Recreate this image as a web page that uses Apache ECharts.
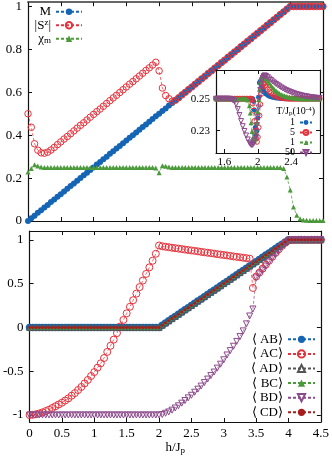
<!DOCTYPE html>
<html>
<head>
<meta charset="utf-8">
<script src="https://cdn.jsdelivr.net/npm/echarts@6/dist/echarts.min.js"></script>
<style>
  html, body { margin: 0; padding: 0; background: #fff; }
  #chart { width: 332px; height: 458px; }
</style>
</head>
<body>
<div id="chart"></div>
<script>
// field h/J_p, common grid for both main panels
const hVals = [0,0.05,0.1,0.15,0.2,0.25,0.3,0.35,0.4,0.45,0.5,0.55,0.6,0.65,0.7,0.75,0.8,0.85,0.9,0.95,
  1,1.05,1.1,1.15,1.2,1.25,1.3,1.35,1.4,1.45,1.5,1.55,1.6,1.65,1.7,1.75,1.8,1.85,1.9,1.95,
  2,2.05,2.1,2.15,2.2,2.25,2.3,2.35,2.4,2.45,2.5,2.55,2.6,2.65,2.7,2.75,2.8,2.85,2.9,2.95,
  3,3.05,3.1,3.15,3.2,3.25,3.3,3.35,3.4,3.45,3.5,3.55,3.6,3.65,3.7,3.75,3.8,3.85,3.9,3.95,
  4,4.05,4.1,4.15,4.2,4.25,4.3,4.35,4.4,4.45,4.5];

// top panel
const mVals = [0,.013,.025,.038,.05,.063,.075,.088,.1,.113,
  .125,.138,.15,.163,.175,.188,.2,.213,.225,.238,
  .25,.263,.275,.288,.3,.313,.325,.338,.35,.363,
  .375,.388,.4,.413,.425,.438,.45,.463,.475,.488,
  .5,.513,.525,.538,.55,.563,.575,.588,.6,.613,
  .625,.638,.65,.663,.675,.688,.7,.713,.725,.738,
  .75,.763,.775,.788,.8,.813,.825,.838,.85,.863,
  .875,.888,.9,.913,.925,.938,.95,.963,.975,.988,
  1,1,1,1,1,1,1,1,1,1,1];
const szVals = [.5,.437,.36,.33,.318,.316,.321,.331,.343,.356,
  .369,.382,.394,.407,.42,.433,.446,.458,.471,.484,
  .497,.51,.522,.535,.548,.561,.574,.586,.599,.612,
  .625,.638,.65,.663,.676,.689,.702,.714,.727,.74,
  .7,.62,.585,.57,.558,.563,.575,.588,.6,.613,
  .625,.638,.65,.663,.675,.688,.7,.713,.725,.738,
  .75,.763,.775,.788,.8,.813,.825,.838,.85,.863,
  .875,.888,.9,.913,.925,.938,.95,.963,.975,.988,
  1,1,1,1,1,1,1,1,1,1,1];
const chiVals = [.228,.245,.262,.256,.252,.25,.25,.25,.25,.25,
  .25,.25,.25,.25,.25,.25,.25,.25,.25,.25,
  .25,.25,.25,.25,.25,.25,.25,.25,.25,.25,
  .25,.25,.25,.25,.25,.25,.25,.25,.25,.247,
  .225,.258,.255,.252,.25,.25,.25,.25,.25,.25,
  .25,.25,.25,.25,.25,.25,.25,.25,.25,.25,
  .25,.25,.25,.25,.25,.25,.25,.25,.25,.25,
  .25,.25,.25,.25,.25,.25,.25,.25,.245,.205,
  .145,.065,.027,.01,.005,.003,.002,.002,.002,.002,.002];

// bottom panel: correlations
const abVals = [0,0,0,0,0,0,0,0,0,0,
  0,0,0,0,0,0,0,0,0,0,
  0,0,0,0,0,0,0,0,0,0,
  0,0,0,0,0,0,0,0,0,0,
  0,.025,.05,.075,.1,.125,.15,.175,.2,.225,
  .25,.275,.3,.325,.35,.375,.4,.425,.45,.475,
  .5,.525,.55,.575,.6,.625,.65,.675,.7,.725,
  .75,.775,.8,.825,.85,.875,.9,.925,.95,.975,
  1,1,1,1,1,1,1,1,1,1,1];
const adVals = abVals.slice();   // AD, BC, CD lie on top of AB
const bcVals = abVals.slice();
const cdVals = abVals.slice();
const acVals = [-1,-.998,-.992,-.982,-.97,-.955,-.94,-.92,-.9,-.88,
  -.86,-.835,-.81,-.78,-.75,-.715,-.68,-.64,-.6,-.555,
  -.51,-.46,-.41,-.35,-.28,-.21,-.14,-.065,.01,.085,
  .16,.235,.31,.385,.46,.535,.61,.685,.76,.84,
  .935,.925,.92,.915,.909,.904,.899,.894,.888,.883,
  .878,.873,.868,.862,.857,.852,.847,.842,.836,.831,
  .826,.821,.816,.81,.805,.8,.795,.79,.784,.45,
  .58,.625,.67,.715,.76,.805,.85,.89,.93,.965,
  .99,.998,1,1,1,1,1,1,1,1,1];
const bdVals = [-1,-1,-1,-1,-1,-1,-1,-1,-1,-1,
  -1,-1,-1,-1,-1,-1,-1,-1,-1,-1,
  -1,-1,-1,-1,-1,-1,-1,-1,-1,-1,
  -1,-1,-1,-1,-1,-1,-1,-1,-1,-1,
  -1,-.995,-.98,-.965,-.945,-.92,-.895,-.865,-.835,-.805,
  -.775,-.74,-.705,-.67,-.63,-.59,-.55,-.51,-.465,-.42,
  -.37,-.315,-.265,-.215,-.16,-.105,-.04,.04,.13,.21,
  .565,.61,.655,.7,.745,.79,.835,.875,.92,.955,
  .985,.997,1,1,1,1,1,1,1,1,1];

// inset: chi_m near h = 2 for several temperatures
const insetH = [1.5,1.52,1.54,1.56,1.58,1.6,1.62,1.64,1.66,1.68,1.7,1.72,1.74,1.76,1.78,1.8,1.82,1.84,1.86,1.88,1.9,
  1.91,1.92,1.93,1.94,1.95,1.96,1.97,1.98,1.99,2,2.01,2.02,2.03,2.04,2.05,2.06,2.07,2.08,2.09,2.1,
  2.12,2.14,2.16,2.18,2.2,2.22,2.24,2.26,2.28,2.3,2.32,2.34,2.36,2.38,2.4,2.42,2.44,2.46,2.48,2.5,
  2.52,2.54,2.56,2.58,2.6,2.62,2.64,2.66,2.68,2.7,2.72,2.74];
const t1Vals = [.25,.25,.25,.25,.25,.25,.25,.25,.25,.25,.25,.25,.25,.25,.25,.25,.25,.25,.25,.25,.25,
  .25,.25,.25,.25,.2485,.243,.232,.227,.23,.238,.251,.26,.261,.259,.257,.2555,.2545,.254,.2535,.253,
  .2522,.2516,.2512,.2509,.2507,.2505,.2504,.2503,.2502,.2501,.25,.25,.25,.25,.25,.25,.25,.25,.25,.25,
  .25,.25,.25,.25,.25,.25,.25,.25,.25,.25,.25,.25];
const t5Vals = [.25,.25,.25,.25,.25,.25,.25,.25,.25,.25,.25,.25,.25,.25,.25,.25,.25,.25,.25,.25,.25,
  .25,.25,.2495,.247,.2425,.236,.23,.225,.223,.226,.232,.2395,.2465,.253,.2575,.2595,.2598,.2595,.2585,.2575,
  .2558,.2545,.2535,.2527,.252,.2515,.2511,.2508,.2506,.2504,.2503,.2502,.2501,.25,.25,.25,.25,.25,.25,.25,
  .25,.25,.25,.25,.25,.25,.25,.25,.25,.25,.25,.25];
const t10Vals = [.25,.25,.25,.25,.25,.25,.25,.25,.25,.25,.25,.25,.25,.25,.25,.25,.25,.25,.25,.2492,.2456,
  .241,.235,.2295,.2255,.2235,.2235,.225,.229,.235,.242,.2495,.256,.2605,.263,.2645,.265,.2648,.2642,.2635,.2627,
  .2612,.2597,.2583,.257,.2558,.2548,.254,.2533,.2527,.2522,.2518,.2514,.2511,.2509,.2507,.2505,.2504,.2503,.2502,.2501,
  .25,.25,.25,.25,.25,.25,.25,.25,.25,.25,.25,.25];
const t50Vals = [.25,.25,.25,.25,.25,.25,.25,.25,.25,.2497,.2492,.2485,.2465,.2435,.2398,.236,.2328,.2298,.227,.2245,.2225,
  .2218,.2212,.221,.2212,.222,.2238,.2262,.2292,.2335,.2385,.2445,.2505,.2555,.259,.2615,.263,.264,.2645,.2645,.2642,
  .2635,.2626,.2617,.2608,.26,.2592,.2585,.2578,.2571,.2565,.2559,.2554,.2549,.2545,.2541,.2537,.2533,.253,.2527,.2524,
  .2521,.2519,.2517,.2515,.2513,.2511,.251,.2508,.2507,.2506,.2505,.2504];

const yTopTicks = [0, 0.2, 0.4, 0.6, 0.8, 1];
const yBotTicks = [-1, -0.5, 0, 0.5, 1];
const xInsetTicks = [1.6, 2, 2.4];
const yInsetTicks = [0.23, 0.25];

const legendText = {
  M: 'M', Sz: '|S{sup|z}|', chi: 'χ{sub|m}',
  AB: '⟨ AB⟩', AC: '⟨ AC⟩', AD: '⟨ AD⟩', BC: '⟨ BC⟩', BD: '⟨ BD⟩', CD: '⟨ CD⟩',
  T1: '1', T5: '5', T10: '1', T50: '50'
};

const FONT = 'Liberation Serif';
const BLUE = '#1565b5', RED = '#e6323c', GREEN = '#4b9a3a', PURPLE = '#8c4a8c', GRAY = '#555555', DARKRED = '#a81c1c';

const rich = {
  sup: { fontFamily: FONT, fontSize: 9, verticalAlign: 'top', padding: [0, 0, 6, 0] },
  sub: { fontFamily: FONT, fontSize: 9, verticalAlign: 'bottom', padding: [6, 0, 0, 0] }
};

function pairs(xs, ys) {
  return xs.map((x, i) => [x, ys[i]]);
}

// one axis edge of a panel frame
function frameAxis(dim, grid, position, range, ticks, labels, extra) {
  const ax = Object.assign({
    type: 'value',
    gridIndex: grid,
    position: position,
    min: range[0],
    max: range[1],
    axisLine: { onZero: false, lineStyle: { color: '#111', width: 1.2 } },
    axisTick: { inside: true, length: 4, customValues: ticks, lineStyle: { color: '#111' } },
    axisLabel: { show: !!labels, customValues: ticks, fontFamily: FONT, fontSize: 13, color: '#000' },
    splitLine: { show: false }
  }, extra || {});
  if (labels) Object.assign(ax.axisLabel, labels);
  return ax;
}

function line(name, xi, xs, ys, color, symbol, size, hollow, z, extra) {
  return Object.assign({
    name: name,
    type: 'line',
    xAxisIndex: xi,
    yAxisIndex: xi,
    data: pairs(xs, ys),
    symbol: symbol,
    symbolSize: size,
    z: z || 2,
    lineStyle: { color: color, width: 0.7, type: [3, 2] },
    itemStyle: hollow
      ? { color: 'rgba(0,0,0,0)', borderColor: color, borderWidth: 1 }
      : { color: color, borderColor: color, borderWidth: 0 },
    emphasis: { disabled: true }
  }, extra || {});
}

const xMain = [0, 0.5, 1, 1.5, 2, 2.5, 3, 3.5, 4, 4.5];

const chart = echarts.init(document.getElementById('chart'));
chart.setOption({
  animation: false,
  backgroundColor: '#fff',
  grid: [
    { left: 28, top: 2, width: 295, height: 219 },
    { left: 28, top: 231, width: 295, height: 191 },
    { left: 216, top: 70, width: 104, height: 83, show: true, backgroundColor: '#fff', borderWidth: 0, z: 10 }
  ],
  xAxis: [
    frameAxis('x', 0, 'bottom', [0, 4.5], xMain, null),
    frameAxis('x', 0, 'top', [0, 4.5], xMain, null, { axisLine: { onZero: false, lineStyle: { color: '#666', width: 2 } } }),
    frameAxis('x', 1, 'bottom', [0, 4.5], xMain, { margin: 5 }, {
      name: 'h/J{sub|p}', nameLocation: 'middle', nameGap: 18,
      nameTextStyle: { fontFamily: FONT, fontSize: 13, color: '#000', rich: rich }
    }),
    frameAxis('x', 1, 'top', [0, 4.5], xMain, null),
    frameAxis('x', 2, 'bottom', [1.5, 2.745], xInsetTicks, { fontSize: 11, margin: 4 }, { z: 11 }),
    frameAxis('x', 2, 'top', [1.5, 2.745], xInsetTicks, null, { z: 11 })
  ],
  yAxis: [
    frameAxis('y', 0, 'left', [0, 1.02], yTopTicks, { margin: 6 }),
    frameAxis('y', 0, 'right', [0, 1.02], yTopTicks, null),
    frameAxis('y', 1, 'left', [-1.08, 1.1], yBotTicks, { margin: 6 }),
    frameAxis('y', 1, 'right', [-1.08, 1.1], yBotTicks, null),
    frameAxis('y', 2, 'left', [0.216, 0.268], yInsetTicks, { fontSize: 11, margin: 6 }, { z: 11 }),
    frameAxis('y', 2, 'right', [0.216, 0.268], yInsetTicks, null, { z: 11 })
  ],
  title: {
    text: 'T/J{sub|p}(10{sup|-4})',
    right: 17, top: 106, padding: 0, z: 13,
    textStyle: {
      fontFamily: FONT, fontSize: 10, fontWeight: 'normal', color: '#000',
      rich: {
        sup: { fontFamily: FONT, fontSize: 7, verticalAlign: 'top', padding: [0, 0, 4, 0] },
        sub: { fontFamily: FONT, fontSize: 7, verticalAlign: 'bottom', padding: [4, 0, 0, 0] }
      }
    }
  },
  legend: [
    {
      data: ['M', 'Sz', 'chi'], orient: 'vertical', align: 'right',
      right: 249, top: 5, padding: 0, itemWidth: 26, itemHeight: 8, itemGap: 0,
      selectedMode: false, formatter: n => legendText[n],
      textStyle: { fontFamily: FONT, fontSize: 13, lineHeight: 13.5, color: '#000', rich: rich }
    },
    {
      data: ['AB', 'AC', 'AD', 'BC', 'BD', 'CD'], orient: 'vertical', align: 'right',
      right: 16, top: 332, padding: 0, itemWidth: 27, itemHeight: 9, itemGap: 0,
      selectedMode: false, formatter: n => legendText[n],
      textStyle: { fontFamily: FONT, fontSize: 13, lineHeight: 14.6, color: '#000' }
    },
    {
      data: ['T1', 'T5', 'T10', 'T50'], orient: 'vertical', align: 'right',
      right: 19, top: 117.5, padding: 0, itemWidth: 12, itemHeight: 6, itemGap: 0, z: 13,
      selectedMode: false, formatter: n => legendText[n],
      textStyle: { fontFamily: FONT, fontSize: 10, lineHeight: 8.7, color: '#000' }
    }
  ],
  series: [
    line('M', 0, hVals, mVals, BLUE, 'circle', 6, false),
    line('Sz', 0, hVals, szVals, RED, 'circle', 6.5, true),
    line('chi', 0, hVals, chiVals, GREEN, 'triangle', 5, false),

    line('AB', 2, hVals, abVals, BLUE, 'circle', 7.5, false),
    line('AC', 2, hVals, acVals, RED, 'circle', 7, true),
    line('AD', 2, hVals, adVals, GRAY, 'triangle', 6, true),
    line('BC', 2, hVals, bcVals, GREEN, 'triangle', 4, false),
    line('BD', 2, hVals, bdVals, PURPLE, 'triangle', 6, true, 2, { symbolRotate: 180 }),
    line('CD', 2, hVals, cdVals, DARKRED, 'circle', 3, false),

    line('T1', 4, insetH, t1Vals, BLUE, 'circle', 5, false, 12),
    line('T5', 4, insetH, t5Vals, RED, 'circle', 5, true, 12),
    line('T10', 4, insetH, t10Vals, GREEN, 'triangle', 5, false, 12),
    line('T50', 4, insetH, t50Vals, PURPLE, 'triangle', 5, true, 12, { symbolRotate: 180 })
  ]
});
</script>
</body>
</html>
